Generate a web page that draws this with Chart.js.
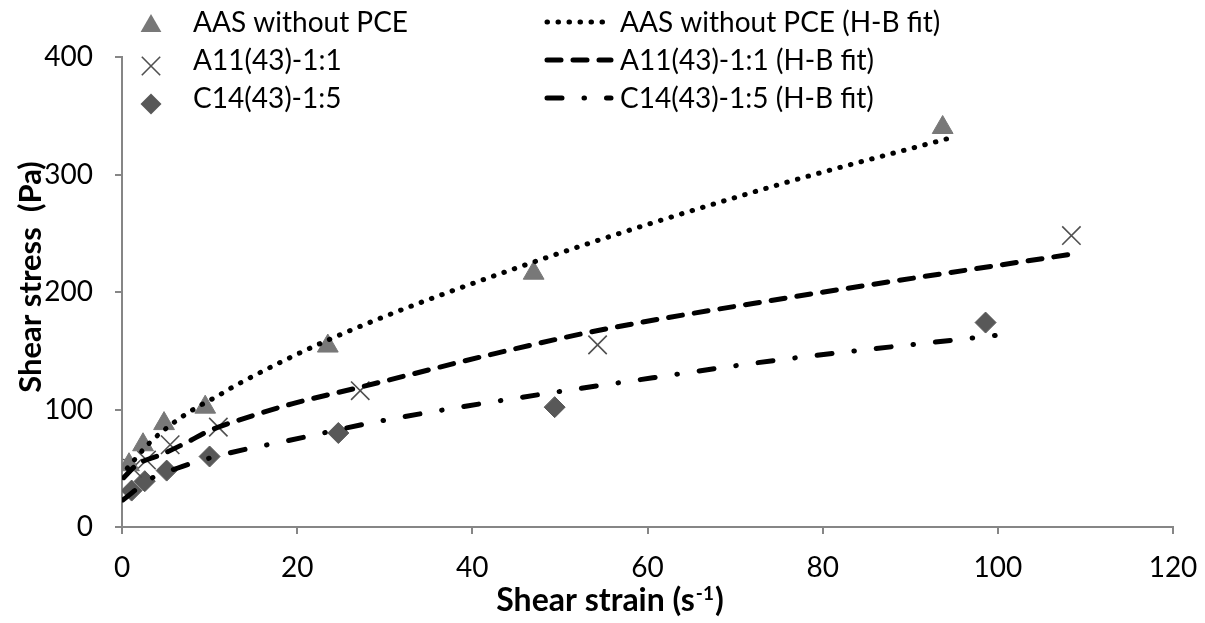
<!DOCTYPE html>
<html>
<head>
<meta charset="utf-8">
<script src="https://cdn.jsdelivr.net/npm/chart.js@4"></script>
<style>
  html, body { margin: 0; padding: 0; background: #fff; }
</style>
</head>
<body>
<canvas id="myChart" width="1205" height="623"></canvas>
<script>
// measured points
const strainAAS = [0.8, 2.4, 4.8, 9.5, 23.5, 47, 93.7]
const stressAAS = [53, 70, 88, 102, 154, 216, 340]
const strainA11 = [1.2, 2.8, 5.5, 11, 27.2, 54.3, 108.4]
const stressA11 = [50, 57, 70, 85, 116, 155, 248]
const strainC14 = [1.1, 2.6, 5.1, 10, 24.7, 49.4, 98.6]
const stressC14 = [31, 39, 48, 60, 80, 102, 174]

// H-B fit curves
const fitStrainAAS = [0.6, 3.2, 6.3, 8.6, 10.8, 13.1, 24.1, 46.8, 74.8, 94.5]
const fitStressAAS = [50, 72, 91, 102, 111, 121, 161, 225, 291, 331]
const fitStrainA11 = [0.2, 1.7, 4.6, 7.4, 10, 14.6, 19.5, 27.2, 42.8, 54.2, 74.3, 109.1]
const fitStressA11 = [42, 53, 62, 72, 82, 94, 105, 119, 148, 167, 193, 233]
const fitStrainC14 = [0.1, 3.5, 6.3, 9.2, 14.6, 18, 28.7, 39.4, 60.6, 74.8, 99.7]
const fitStressC14 = [23, 42, 50, 57, 67, 72, 89, 103, 127, 142, 163]

const seriesNames = ['AAS without PCE', 'A11(43)-1:1', 'C14(43)-1:5']
const fitNames = ['AAS without PCE (H-B fit)', 'A11(43)-1:1 (H-B fit)', 'C14(43)-1:5 (H-B fit)']

const xTicks = [0, 20, 40, 60, 80, 100, 120]
const yTicks = [0, 100, 200, 300, 400]

const toPoints = (xs, ys) => xs.map((x, i) => ({ x: x, y: ys[i] }))

const FONT = 'Lato, "Open Sans", sans-serif'
const axisGray = '#868686'

const dotDash = [0.5, 10.5]
const longDash = [14, 12]
const dashDot = [15, 22, 0.5, 22]

const markerStyles = [
    { pointStyle: 'triangle', pointRadius: 12, pointBackgroundColor: '#787878', pointBorderColor: '#787878', pointBorderWidth: 1 },
    { pointStyle: 'crossRot', pointRadius: 13, pointBackgroundColor: '#505050', pointBorderColor: '#505050', pointBorderWidth: 1.6 },
    { pointStyle: 'rectRot', pointRadius: 10.5, pointBackgroundColor: '#585858', pointBorderColor: '#585858', pointBorderWidth: 1 }
]
const lineDashes = [dotDash, longDash, dashDot]

const datasets = [
    Object.assign({ label: seriesNames[0], data: toPoints(strainAAS, stressAAS), showLine: false, order: 2 }, markerStyles[0]),
    Object.assign({ label: seriesNames[1], data: toPoints(strainA11, stressA11), showLine: false, order: 2 }, markerStyles[1]),
    Object.assign({ label: seriesNames[2], data: toPoints(strainC14, stressC14), showLine: false, order: 2 }, markerStyles[2]),
    { label: fitNames[0], data: toPoints(fitStrainAAS, fitStressAAS), showLine: true, pointRadius: 0, borderColor: '#000', borderWidth: 5, borderDash: dotDash, borderCapStyle: 'round', cubicInterpolationMode: 'monotone', order: 1 },
    { label: fitNames[1], data: toPoints(fitStrainA11, fitStressA11), showLine: true, pointRadius: 0, borderColor: '#000', borderWidth: 5, borderDash: longDash, borderCapStyle: 'round', cubicInterpolationMode: 'monotone', order: 1 },
    { label: fitNames[2], data: toPoints(fitStrainC14, fitStressC14), showLine: true, pointRadius: 0, borderColor: '#000', borderWidth: 5, borderDash: dashDot, borderCapStyle: 'round', cubicInterpolationMode: 'monotone', order: 1 }
]

// marker drawing for the legend
const drawMarker = (ctx, style, x, y) => {
    ctx.save()
    ctx.fillStyle = style.pointBackgroundColor
    ctx.strokeStyle = style.pointBorderColor
    ctx.lineWidth = style.pointBorderWidth
    const r = style.pointRadius
    ctx.beginPath()
    if (style.pointStyle === 'triangle') {
        ctx.moveTo(x, y - r)
        ctx.lineTo(x + r * 0.866, y + r * 0.5)
        ctx.lineTo(x - r * 0.866, y + r * 0.5)
        ctx.closePath()
        ctx.fill()
    } else if (style.pointStyle === 'crossRot') {
        const o = r * 0.707
        ctx.moveTo(x - o, y - o); ctx.lineTo(x + o, y + o)
        ctx.moveTo(x - o, y + o); ctx.lineTo(x + o, y - o)
        ctx.stroke()
    } else {
        ctx.moveTo(x, y - r); ctx.lineTo(x + r, y); ctx.lineTo(x, y + r); ctx.lineTo(x - r, y)
        ctx.closePath()
        ctx.fill()
    }
    ctx.restore()
}

const legendPlugin = {
    id: 'twoColumnLegend',
    afterDraw(chart) {
        const ctx = chart.ctx
        const baselines = [32, 70, 108]
        const markerY = [26, 66, 104]
        ctx.save()
        ctx.font = '28px ' + FONT
        ctx.fillStyle = '#000'
        ctx.textBaseline = 'alphabetic'
        ctx.textAlign = 'left'
        baselines.forEach((y, i) => {
            drawMarker(ctx, markerStyles[i], 151, markerY[i])
            ctx.fillText(seriesNames[i], 193, y)

            ctx.save()
            ctx.strokeStyle = '#000'
            ctx.lineWidth = 5
            ctx.lineCap = 'round'
            ctx.setLineDash(lineDashes[i])
            ctx.beginPath()
            ctx.moveTo(547, y - 10)
            ctx.lineTo(611, y - 10)
            ctx.stroke()
            ctx.restore()

            ctx.fillText(fitNames[i], 620, y)
        })
        ctx.restore()
    }
}

const titlePlugin = {
    id: 'axisTitles',
    afterDraw(chart) {
        const ctx = chart.ctx
        ctx.save()
        ctx.fillStyle = '#000'
        ctx.textBaseline = 'alphabetic'

        // x title with superscript
        const big = 'bold 32px ' + FONT
        const small = 'bold 19px ' + FONT
        const partA = 'Shear strain (s'
        const sup = '-1'
        const partB = ')'
        ctx.font = big
        const wA = ctx.measureText(partA).width
        const wB = ctx.measureText(partB).width
        ctx.font = small
        const wS = ctx.measureText(sup).width
        let x = 609 - (wA + wS + wB) / 2
        const y = 611
        ctx.textAlign = 'left'
        ctx.font = big
        ctx.fillText(partA, x, y)
        x += wA
        ctx.font = small
        ctx.fillText(sup, x + 1, y - 11)
        x += wS + 2
        ctx.font = big
        ctx.fillText(partB, x, y)

        // y title
        ctx.translate(41, 277)
        ctx.rotate(-Math.PI / 2)
        ctx.textAlign = 'center'
        ctx.font = 'bold 31px ' + FONT
        ctx.fillText('Shear stress  (Pa)', 0, 0)
        ctx.restore()
    }
}

new Chart(document.getElementById('myChart'), {
    type: 'scatter',
    data: { datasets: datasets },
    options: {
        responsive: false,
        devicePixelRatio: 1,
        animation: false,
        layout: { padding: { top: 57, right: 32, left: 0, bottom: 0 } },
        plugins: {
            legend: { display: false },
            tooltip: { enabled: false }
        },
        scales: {
            x: {
                type: 'linear',
                min: xTicks[0],
                max: xTicks[xTicks.length - 1],
                afterFit: (scale) => {
                    scale.height = 96
                    scale.paddingLeft = 0
                    scale.paddingRight = 0
                },
                afterBuildTicks: (scale) => { scale.ticks = xTicks.map(v => ({ value: v })) },
                border: { display: true, color: axisGray, width: 2 },
                grid: { display: true, drawOnChartArea: false, drawTicks: true, tickLength: 7, color: axisGray, lineWidth: 2 },
                ticks: { color: '#000', font: { family: FONT, size: 28 }, padding: 17, maxRotation: 0 }
            },
            y: {
                type: 'linear',
                min: yTicks[0],
                max: yTicks[yTicks.length - 1],
                afterFit: (scale) => {
                    scale.width = 122
                    scale.paddingTop = 0
                    scale.paddingBottom = 0
                },
                afterBuildTicks: (scale) => { scale.ticks = yTicks.map(v => ({ value: v })) },
                border: { display: true, color: axisGray, width: 2 },
                grid: { display: true, drawOnChartArea: false, drawTicks: true, tickLength: 7, color: axisGray, lineWidth: 2 },
                ticks: { color: '#000', font: { family: FONT, size: 28 }, padding: 22 }
            }
        }
    },
    plugins: [legendPlugin, titlePlugin]
})
</script>
</body>
</html>
